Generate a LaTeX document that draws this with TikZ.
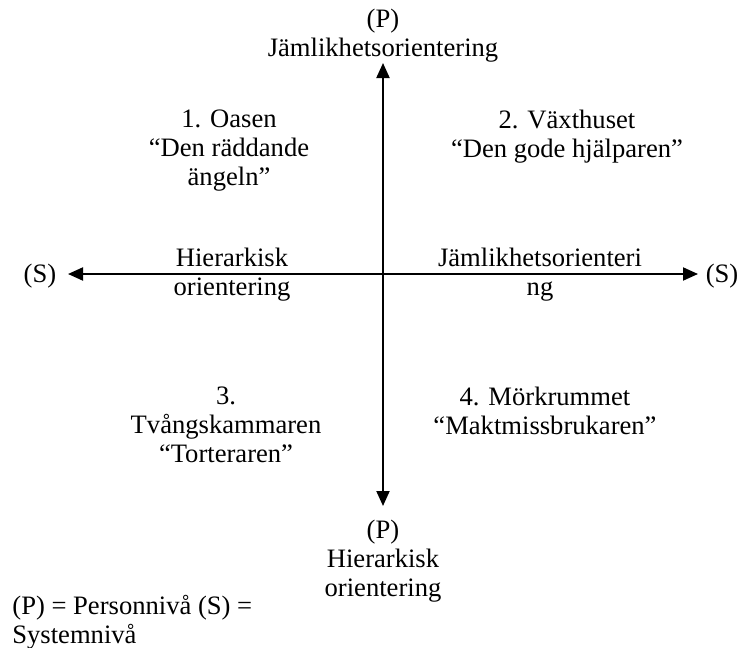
\documentclass[tikz,border=0pt]{standalone}
\usepackage{fontspec}
\setmainfont{Liberation Serif}
\usetikzlibrary{arrows.meta}
\begin{document}
\begin{tikzpicture}[x=0.5pt,y=-0.5pt,
  lbl/.style={align=center, inner sep=0pt, font=\fontsize{13.3}{14.5}\selectfont},
  axis/.style={line width=1pt, -{Triangle[length=7.5pt,width=6.5pt]}}]
\useasboundingbox (0,0) rectangle (740,648);
\coordinate (O) at (383,274);
\coordinate (T) at (383,63);
\coordinate (B) at (383,506);
\coordinate (L) at (68,274);
\coordinate (R) at (698,274);
\draw[axis] (O) -- (T);
\draw[axis] (O) -- (B);
\draw[axis] (O) -- (L);
\draw[axis] (O) -- (R);
\node[lbl] (top) at (383,36) {(P)\\Jämlikhetsorientering};
\node[lbl] (q1) at (229,151) {1. Oasen\\“Den räddande\\ängeln”};
\node[lbl] (q2) at (567,137) {2. Växthuset\\“Den gode hjälparen”};
\node[lbl] (hl) at (232,275) {Hierarkisk\\orientering};
\node[lbl] (hr) at (540,275) {Jämlikhetsorienteri\\ng};
\node[lbl] (sl) at (40,276) {(S)};
\node[lbl] (sr) at (722,276) {(S)};
\node[lbl] (q3) at (226,425) {3.\\Tvångskammaren\\“Torteraren”};
\node[lbl] (q4) at (545,411) {4. Mörkrummet\\“Maktmissbrukaren”};
\node[lbl] (bot) at (383,561) {(P)\\Hierarkisk\\orientering};
\node[lbl, align=left, anchor=west] (leg) at (12,622) {(P) = Personnivå (S) =\\Systemnivå};
\end{tikzpicture}
\end{document}
